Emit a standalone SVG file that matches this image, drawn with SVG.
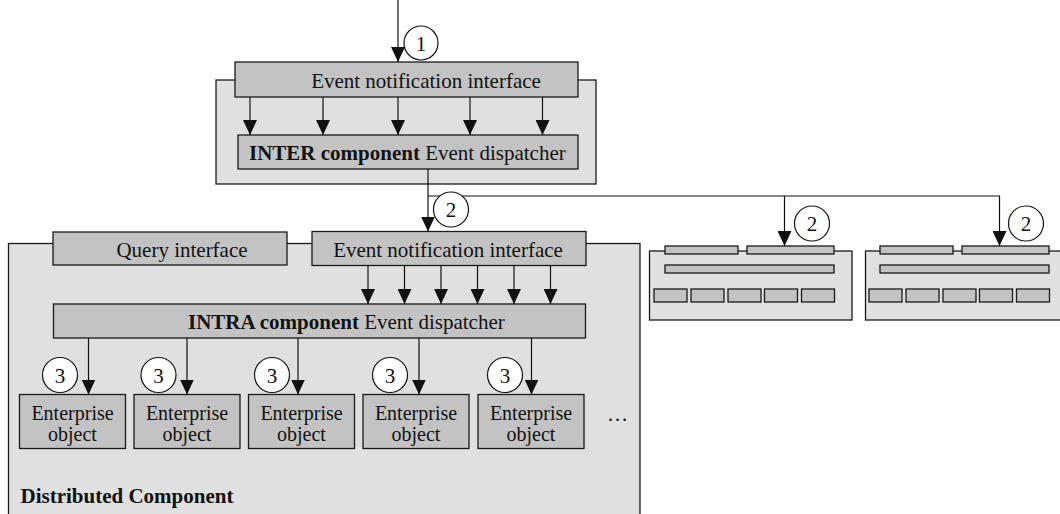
<svg xmlns="http://www.w3.org/2000/svg" width="1060" height="514" viewBox="0 0 1060 514">
<style>
.cont{fill:#e0e0e0;stroke:#1a1a1a;stroke-width:1.3}
.box{fill:#c3c3c3;stroke:#1a1a1a;stroke-width:1.3}
.arr{fill:none;stroke:#111;stroke-width:1.2;marker-end:url(#ah)}
.num{fill:#fff;stroke:#111;stroke-width:1.2}
text{font-family:"Liberation Serif","Times New Roman",serif;font-size:21px;fill:#111}
.c{text-anchor:middle}
.b{font-weight:bold}
.eo{font-size:20px}
</style>
<defs>
<marker id="ah" viewBox="0 0 15 14" markerWidth="15" markerHeight="14" refX="15" refY="7" orient="auto" markerUnits="userSpaceOnUse">
<path d="M0,0 L15,7 L0,14 Z" fill="#111"/>
</marker>
</defs>

<g id="inter-component">
<rect class="cont" x="216" y="80" width="380" height="104"/>
<g id="inter-notification">
<rect class="box" x="235" y="62" width="343" height="35"/>
<text class="c" x="426" y="87.5">Event notification interface</text>
</g>
<g id="inter-dispatcher">
<rect class="box" x="238" y="135" width="340" height="34"/>
<text x="249" y="160"><tspan class="b">INTER component</tspan> Event dispatcher</text>
</g>
</g>

<g id="distributed-component">
<rect class="cont" x="8.5" y="243.5" width="631.5" height="290"/>
<text class="b" x="20.5" y="503">Distributed Component</text>
<g id="query-interface">
<rect class="box" x="53" y="232" width="234" height="33"/>
<text class="c" x="182" y="256.5">Query interface</text>
</g>
<g id="intra-notification">
<rect class="box" x="312" y="231.5" width="274" height="34"/>
<text class="c" x="448" y="256.5">Event notification interface</text>
</g>
<g id="intra-dispatcher">
<rect class="box" x="53.5" y="304" width="532" height="34"/>
<text x="188" y="329"><tspan class="b">INTRA component</tspan> Event dispatcher</text>
</g>
<g id="eo1"><rect class="box" x="19.5" y="394.5" width="106" height="54"/><text class="c eo" x="72.5" y="419.5">Enterprise</text><text class="c eo" x="72.5" y="441">object</text></g>
<g id="eo2"><rect class="box" x="134" y="394.5" width="106" height="54"/><text class="c eo" x="187" y="419.5">Enterprise</text><text class="c eo" x="187" y="441">object</text></g>
<g id="eo3"><rect class="box" x="248.5" y="394.5" width="106" height="54"/><text class="c eo" x="301.5" y="419.5">Enterprise</text><text class="c eo" x="301.5" y="441">object</text></g>
<g id="eo4"><rect class="box" x="363" y="394.5" width="106" height="54"/><text class="c eo" x="416" y="419.5">Enterprise</text><text class="c eo" x="416" y="441">object</text></g>
<g id="eo5"><rect class="box" x="478" y="394.5" width="106" height="54"/><text class="c eo" x="531" y="419.5">Enterprise</text><text class="c eo" x="531" y="441">object</text></g>
<text class="c" x="617.5" y="421">…</text>
</g>

<g id="remote-component-a">
<rect class="cont" x="649.5" y="251" width="202.5" height="69"/>
<rect class="box" x="665" y="246" width="73" height="8"/>
<rect class="box" x="747" y="246" width="87" height="8"/>
<rect class="box" x="665" y="265" width="169" height="8"/>
<rect class="box" x="654" y="289" width="33" height="13"/>
<rect class="box" x="691" y="289" width="33" height="13"/>
<rect class="box" x="728" y="289" width="33" height="13"/>
<rect class="box" x="764.5" y="289" width="33" height="13"/>
<rect class="box" x="801.5" y="289" width="33" height="13"/>
</g>
<g id="remote-component-b" transform="translate(215,0)">
<rect class="cont" x="650.5" y="251" width="230" height="69"/>
<rect class="box" x="665" y="246" width="73" height="8"/>
<rect class="box" x="747" y="246" width="87" height="8"/>
<rect class="box" x="665" y="265" width="169" height="8"/>
<rect class="box" x="654" y="289" width="33" height="13"/>
<rect class="box" x="691" y="289" width="33" height="13"/>
<rect class="box" x="728" y="289" width="33" height="13"/>
<rect class="box" x="764.5" y="289" width="33" height="13"/>
<rect class="box" x="801.5" y="289" width="33" height="13"/>
</g>

<g id="connectors">
<path class="arr" d="M398,0 V62"/>
<path class="arr" d="M250,97 V135"/>
<path class="arr" d="M323,97 V135"/>
<path class="arr" d="M398,97 V135"/>
<path class="arr" d="M470,97 V135"/>
<path class="arr" d="M542.5,97 V135"/>
<path class="arr" d="M428,169 V231.5"/>
<path class="arr" d="M428,196 H999.5 V246"/>
<path class="arr" d="M784.5,196 V246"/>
<path class="arr" d="M368,265.5 V304"/>
<path class="arr" d="M404.5,265.5 V304"/>
<path class="arr" d="M441,265.5 V304"/>
<path class="arr" d="M477.5,265.5 V304"/>
<path class="arr" d="M514,265.5 V304"/>
<path class="arr" d="M550.5,265.5 V304"/>
<path class="arr" d="M88.5,338 V394.5"/>
<path class="arr" d="M187,338 V394.5"/>
<path class="arr" d="M298,338 V394.5"/>
<path class="arr" d="M419,338 V394.5"/>
<path class="arr" d="M531.5,338 V394.5"/>
</g>

<g id="step-labels">
<circle class="num" cx="421" cy="43" r="17"/><text class="c" x="421" y="50.5">1</text>
<circle class="num" cx="451" cy="209.5" r="17.5"/><text class="c" x="451" y="217">2</text>
<circle class="num" cx="812" cy="223.5" r="17.5"/><text class="c" x="812" y="231">2</text>
<circle class="num" cx="1026" cy="223.5" r="17.5"/><text class="c" x="1026" y="231">2</text>
<circle class="num" cx="60" cy="375" r="17.5"/><text class="c" x="60" y="382.5">3</text>
<circle class="num" cx="158.5" cy="375" r="17.5"/><text class="c" x="158.5" y="382.5">3</text>
<circle class="num" cx="272" cy="375" r="17.5"/><text class="c" x="272" y="382.5">3</text>
<circle class="num" cx="390" cy="375" r="17.5"/><text class="c" x="390" y="382.5">3</text>
<circle class="num" cx="505" cy="375" r="17.5"/><text class="c" x="505" y="382.5">3</text>
</g>
</svg>
